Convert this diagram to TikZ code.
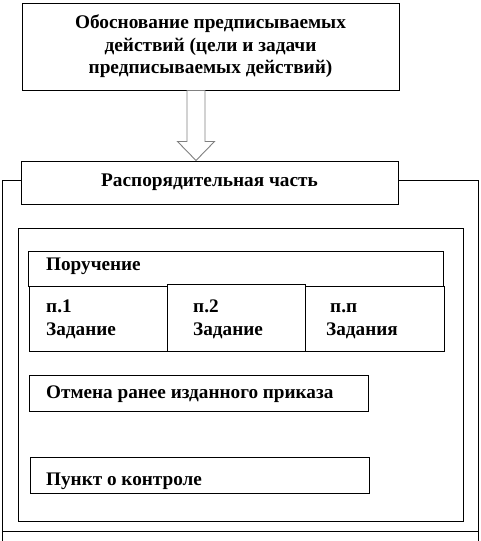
\documentclass[tikz,border=0pt]{standalone}
\usepackage{fontspec}
\setmainfont{Liberation Serif}
\usepackage{tikz}
\usetikzlibrary{positioning, calc}
\tikzset{
    box/.style={rectangle, draw, line width=1pt, fill=white, inner sep=0pt},
    lbl/.style={font=\fontsize{19.2}{23}\selectfont\bfseries, inner sep=0pt, anchor=west, align=left},
    frame/.style={line width=1pt},
    hollowarrow/.style={draw=gray, fill=white, line width=0.9pt, line join=miter},
}

\begin{document}
\begin{tikzpicture}[x=1pt, y=-1pt]
\useasboundingbox (0,0) rectangle (481,541);

% === OUTER FRAME ===
\draw[frame] (2.5,541) -- (2.5,180) -- (478,180) -- (478,541);
\draw[frame] (2.5,531) -- (478,531);

% === TOP BLOCKS ===
\node[box, minimum width=377pt, minimum height=87pt, align=center,
      font=\fontsize{19.3}{22.5}\selectfont\bfseries] (osn) at (210.5,46.5)
      {Обоснование предписываемых\\действий (цели и задачи\\предписываемых действий)};
\node[box, minimum width=377pt, minimum height=43pt,
      font=\fontsize{19.3}{22.5}\selectfont\bfseries] (rasp) at (209.5,182.5)
      {Распорядительная часть};

% hollow arrow osn -> rasp
\coordinate (atail) at ($(osn.south)+(-14.5,0)$);
\draw[hollowarrow] (atail) ++(-9,0) -- ++(0,51) -- ++(-9.5,0) -- ($(atail)+(0,70)$)
    -- ++(18.5,-19) -- ++(-9.5,0) -- ++(0,-51) -- cycle;

% === INNER BLOCK ===
\node[box, minimum width=445pt, minimum height=293pt] (inner) at (240.5,374.5) {};

\node[box, minimum width=415pt, minimum height=35pt] (poruch) at (235.5,268.5) {};
\node[lbl] (tporuch) at (46,266) {Поручение};

\node[box, minimum width=138pt, minimum height=65pt] (p1) at (98,318.5) {};
\node[box, minimum width=138pt, minimum height=67pt] (p2) at (236,317.5) {};
\node[box, minimum width=139pt, minimum height=65pt] (pn) at (374.5,318.5) {};
\node[lbl] (tp1) at (46,319.5) {п.1\strut\\Задание\strut};
\node[lbl] (tp2) at (193,319.5) {п.2\strut\\Задание\strut};
\node[lbl] (tpn) at (326,319.5) {\hspace{4pt}п.п\strut\\Задания\strut};

\node[box, minimum width=339pt, minimum height=36pt] (otm) at (198.5,393) {};
\node[lbl] (totm) at (46,394) {Отмена ранее изданного приказа};

\node[box, minimum width=339pt, minimum height=36pt] (punkt) at (199.5,475) {};
\node[lbl] (tpunkt) at (46,481.5) {Пункт о контроле};

\end{tikzpicture}
\end{document}
